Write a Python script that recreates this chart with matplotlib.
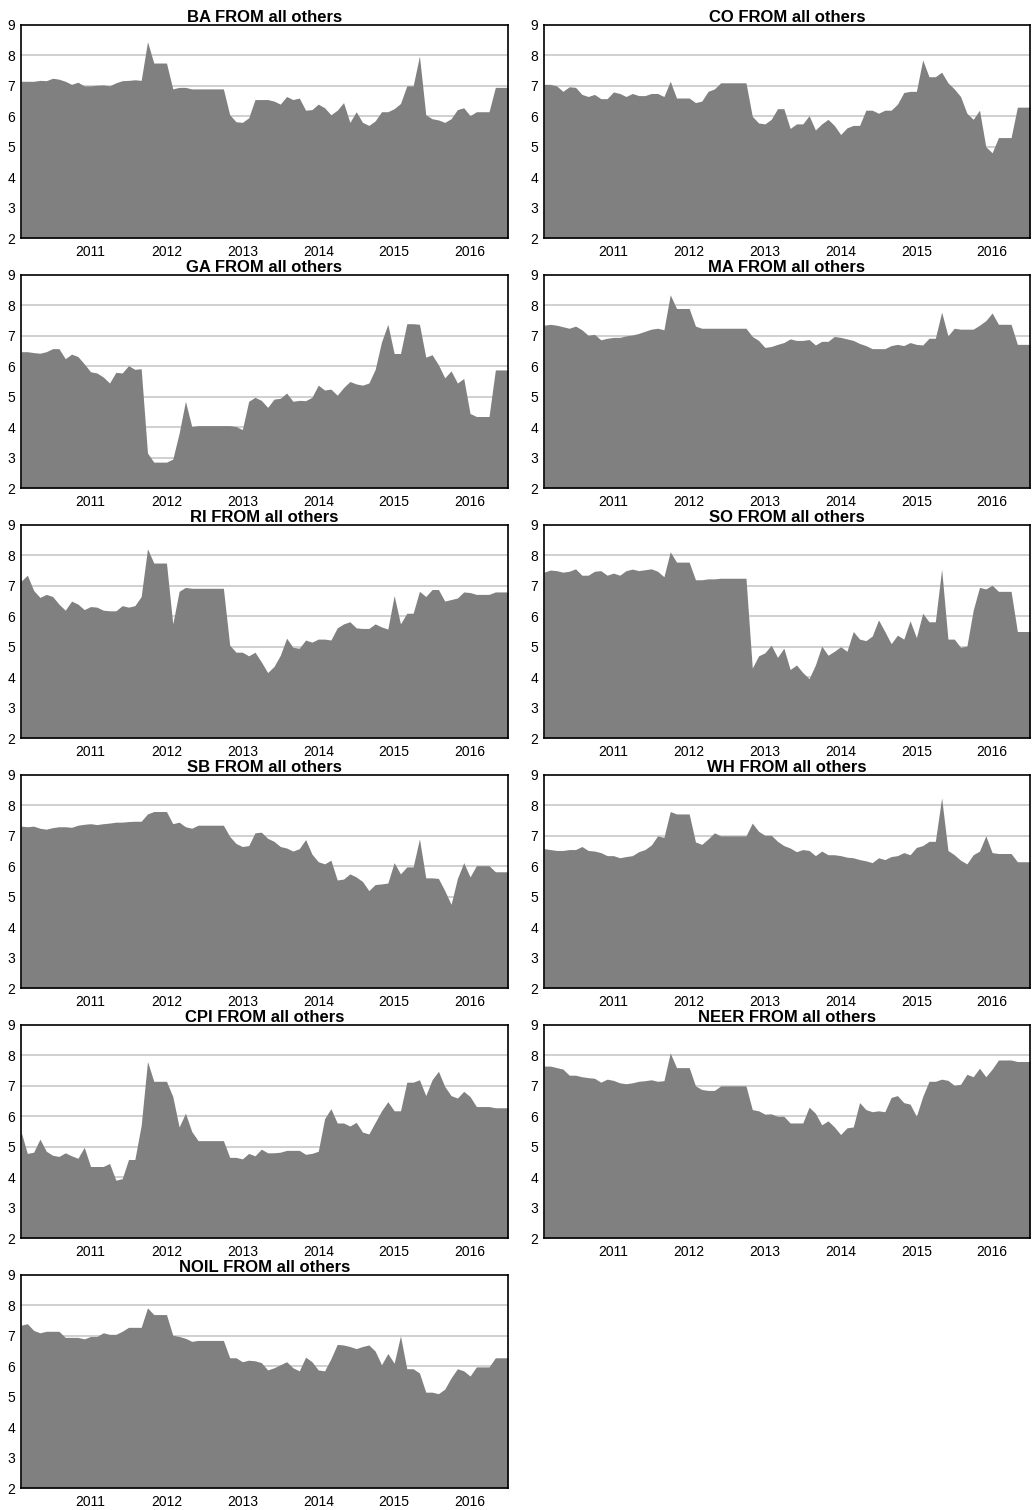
import matplotlib
matplotlib.use("Agg")
import matplotlib.pyplot as plt
import numpy as np

plt.rcParams["font.family"] = ["Liberation Sans", "DejaVu Sans"]

# monthly observations, Feb 2010 .. Jul 2016
n_obs = 78
year_labels = ["2011", "2012", "2013", "2014", "2015", "2016"]
year_pos = [11, 23, 35, 47, 59, 71]   # January of each year (obs index)

ba = [7.15, 7.15, 7.15, 7.18, 7.17, 7.25, 7.22, 7.15, 7.05, 7.12, 7.0, 7.0, 7.02, 7.03, 7.0, 7.1,
      7.17, 7.18, 7.2, 7.18, 8.45, 7.75, 7.75, 7.75, 6.9, 6.95, 6.95, 6.9, 6.9, 6.9, 6.9, 6.9,
      6.9, 6.05, 5.82, 5.8, 5.95, 6.55, 6.55, 6.55, 6.5, 6.4, 6.65, 6.55, 6.6, 6.2, 6.22, 6.4,
      6.28, 6.05, 6.2, 6.45, 5.8, 6.15, 5.8, 5.7, 5.85, 6.15, 6.15, 6.25, 6.42, 7.0, 7.0, 7.98,
      6.05, 5.92, 5.88, 5.8, 5.92, 6.22, 6.28, 6.02, 6.15, 6.15, 6.15, 6.95, 6.95, 6.95]

co = [7.05, 7.05, 7.0, 6.82, 6.97, 6.95, 6.72, 6.65, 6.72, 6.58, 6.58, 6.8, 6.75, 6.65, 6.75, 6.68,
      6.68, 6.75, 6.75, 6.65, 7.15, 6.6, 6.6, 6.6, 6.45, 6.5, 6.82, 6.9, 7.1, 7.1, 7.1, 7.1,
      7.1, 6.0, 5.78, 5.75, 5.9, 6.25, 6.25, 5.6, 5.75, 5.75, 6.02, 5.55, 5.75, 5.9, 5.7, 5.4,
      5.62, 5.7, 5.7, 6.2, 6.2, 6.1, 6.2, 6.2, 6.4, 6.78, 6.82, 6.82, 7.85, 7.3, 7.3, 7.45,
      7.1, 6.9, 6.65, 6.1, 5.9, 6.2, 5.0, 4.8, 5.3, 5.3, 5.3, 6.3, 6.3, 6.3]

ga = [6.48, 6.48, 6.45, 6.43, 6.48, 6.58, 6.58, 6.25, 6.4, 6.32, 6.08, 5.82, 5.78, 5.65, 5.45, 5.8,
      5.78, 6.02, 5.9, 5.92, 3.15, 2.85, 2.85, 2.85, 2.95, 3.8, 4.85, 4.02, 4.05, 4.05, 4.05, 4.05,
      4.05, 4.05, 4.02, 3.92, 4.85, 4.98, 4.88, 4.65, 4.92, 4.95, 5.12, 4.85, 4.88, 4.87, 4.98, 5.38,
      5.22, 5.25, 5.05, 5.3, 5.5, 5.42, 5.38, 5.45, 5.9, 6.8, 7.38, 6.42, 6.42, 7.4, 7.4, 7.38,
      6.3, 6.38, 6.05, 5.62, 5.85, 5.45, 5.6, 4.45, 4.35, 4.35, 4.35, 5.88, 5.88, 5.88]

ma = [7.35, 7.38, 7.35, 7.3, 7.25, 7.32, 7.2, 7.02, 7.05, 6.87, 6.92, 6.95, 6.95, 7.0, 7.03, 7.08,
      7.15, 7.22, 7.25, 7.2, 8.35, 7.9, 7.9, 7.9, 7.32, 7.25, 7.25, 7.25, 7.25, 7.25, 7.25, 7.25,
      7.25, 6.98, 6.85, 6.62, 6.65, 6.72, 6.78, 6.9, 6.85, 6.85, 6.88, 6.7, 6.82, 6.82, 6.98, 6.95,
      6.9, 6.85, 6.75, 6.68, 6.58, 6.58, 6.58, 6.68, 6.72, 6.68, 6.78, 6.72, 6.7, 6.92, 6.92, 7.78,
      7.0, 7.25, 7.22, 7.22, 7.22, 7.35, 7.5, 7.75, 7.38, 7.38, 7.38, 6.72, 6.72, 6.72]

ri = [7.15, 7.35, 6.85, 6.62, 6.72, 6.65, 6.4, 6.2, 6.5, 6.4, 6.22, 6.32, 6.3, 6.2, 6.18, 6.18,
      6.35, 6.3, 6.35, 6.65, 8.22, 7.75, 7.75, 7.75, 5.75, 6.82, 6.95, 6.92, 6.92, 6.92, 6.92, 6.92,
      6.92, 5.05, 4.82, 4.82, 4.7, 4.82, 4.5, 4.15, 4.35, 4.72, 5.28, 4.98, 4.95, 5.22, 5.15, 5.25,
      5.25, 5.22, 5.62, 5.75, 5.82, 5.62, 5.6, 5.6, 5.75, 5.65, 5.58, 6.68, 5.75, 6.1, 6.1, 6.82,
      6.65, 6.88, 6.88, 6.5, 6.55, 6.6, 6.8, 6.78, 6.72, 6.72, 6.72, 6.8, 6.8, 6.8]

so = [7.45, 7.52, 7.5, 7.45, 7.48, 7.56, 7.35, 7.35, 7.48, 7.5, 7.35, 7.42, 7.35, 7.5, 7.55, 7.5,
      7.53, 7.56, 7.48, 7.3, 8.12, 7.78, 7.78, 7.78, 7.2, 7.2, 7.23, 7.23, 7.25, 7.25, 7.25, 7.25,
      7.25, 4.3, 4.7, 4.8, 5.05, 4.65, 4.95, 4.25, 4.4, 4.15, 3.95, 4.4, 5.02, 4.72, 4.85, 5.0,
      4.85, 5.5, 5.25, 5.2, 5.35, 5.88, 5.5, 5.1, 5.38, 5.25, 5.85, 5.3, 6.1, 5.82, 5.82, 7.55,
      5.25, 5.25, 4.98, 5.02, 6.2, 6.95, 6.9, 7.02, 6.82, 6.82, 6.82, 5.5, 5.5, 5.5]

sb = [7.32, 7.3, 7.32, 7.25, 7.22, 7.27, 7.3, 7.3, 7.28, 7.35, 7.38, 7.4, 7.37, 7.4, 7.42, 7.45,
      7.45, 7.47, 7.48, 7.48, 7.72, 7.8, 7.8, 7.8, 7.4, 7.45, 7.3, 7.25, 7.35, 7.35, 7.35, 7.35,
      7.35, 6.98, 6.75, 6.65, 6.68, 7.1, 7.12, 6.92, 6.82, 6.65, 6.6, 6.5, 6.58, 6.88, 6.4, 6.15,
      6.08, 6.2, 5.55, 5.58, 5.75, 5.65, 5.5, 5.2, 5.4, 5.42, 5.45, 6.12, 5.75, 5.98, 5.98, 6.9,
      5.62, 5.62, 5.6, 5.2, 4.75, 5.6, 6.12, 5.65, 6.02, 6.02, 6.02, 5.82, 5.82, 5.82]

wh = [6.58, 6.55, 6.52, 6.52, 6.55, 6.55, 6.65, 6.52, 6.5, 6.45, 6.35, 6.35, 6.28, 6.32, 6.35, 6.48,
      6.55, 6.7, 7.0, 6.95, 7.8, 7.72, 7.72, 7.72, 6.8, 6.72, 6.9, 7.1, 7.0, 7.0, 7.0, 7.0,
      7.0, 7.42, 7.15, 7.02, 7.02, 6.82, 6.68, 6.6, 6.48, 6.55, 6.52, 6.35, 6.5, 6.38, 6.38, 6.35,
      6.3, 6.28, 6.22, 6.18, 6.12, 6.28, 6.22, 6.32, 6.35, 6.45, 6.38, 6.62, 6.68, 6.82, 6.82, 8.25,
      6.52, 6.38, 6.2, 6.08, 6.38, 6.5, 7.0, 6.45, 6.42, 6.42, 6.42, 6.15, 6.15, 6.15]

cpi = [5.5, 4.78, 4.82, 5.25, 4.85, 4.72, 4.68, 4.8, 4.7, 4.62, 4.98, 4.35, 4.35, 4.35, 4.45, 3.9,
       3.95, 4.58, 4.58, 5.7, 7.8, 7.15, 7.15, 7.15, 6.65, 5.65, 6.1, 5.5, 5.2, 5.2, 5.2, 5.2,
       5.2, 4.65, 4.65, 4.6, 4.78, 4.7, 4.92, 4.8, 4.8, 4.82, 4.88, 4.88, 4.88, 4.75, 4.78, 4.85,
       5.92, 6.25, 5.78, 5.78, 5.68, 5.8, 5.48, 5.42, 5.8, 6.18, 6.48, 6.18, 6.18, 7.12, 7.12, 7.2,
       6.68, 7.2, 7.48, 6.98, 6.68, 6.6, 6.82, 6.65, 6.32, 6.32, 6.32, 6.28, 6.28, 6.28]

neer = [7.65, 7.65, 7.6, 7.55, 7.35, 7.35, 7.3, 7.27, 7.25, 7.12, 7.22, 7.18, 7.1, 7.07, 7.1, 7.15,
        7.17, 7.2, 7.15, 7.17, 8.08, 7.6, 7.6, 7.6, 7.0, 6.88, 6.85, 6.85, 7.0, 7.0, 7.0, 7.0,
        7.0, 6.22, 6.18, 6.07, 6.08, 6.0, 6.0, 5.78, 5.78, 5.78, 6.3, 6.1, 5.72, 5.85, 5.65, 5.4,
        5.62, 5.65, 6.45, 6.22, 6.15, 6.18, 6.15, 6.62, 6.68, 6.45, 6.4, 6.0, 6.65, 7.15, 7.15, 7.22,
        7.18, 7.02, 7.05, 7.38, 7.3, 7.58, 7.3, 7.55, 7.85, 7.85, 7.85, 7.8, 7.8, 7.8]

noil = [7.35, 7.4, 7.18, 7.1, 7.15, 7.15, 7.15, 6.95, 6.95, 6.95, 6.9, 6.98, 6.98, 7.1, 7.05, 7.05,
        7.15, 7.28, 7.28, 7.28, 7.92, 7.7, 7.7, 7.7, 7.02, 6.98, 6.92, 6.82, 6.85, 6.85, 6.85, 6.85,
        6.85, 6.28, 6.28, 6.15, 6.2, 6.18, 6.12, 5.88, 5.95, 6.05, 6.15, 5.95, 5.85, 6.3, 6.15, 5.88,
        5.85, 6.25, 6.72, 6.7, 6.65, 6.58, 6.65, 6.7, 6.5, 6.05, 6.42, 6.1, 7.0, 5.92, 5.92, 5.78,
        5.15, 5.15, 5.1, 5.25, 5.62, 5.92, 5.85, 5.68, 5.98, 5.98, 5.98, 6.28, 6.28, 6.28]

names = ["BA", "CO", "GA", "MA", "RI", "SO", "SB", "WH", "CPI", "NEER", "NOIL"]
series = [ba, co, ga, ma, ri, so, sb, wh, cpi, neer, noil]

W, H = 1033, 1510
fig = plt.figure(figsize=(W / 100, H / 100), dpi=100)

x = np.arange(n_obs)
for k, (name, vals) in enumerate(zip(names, series)):
    row, col = divmod(k, 2)
    left = 21 if col == 0 else 544
    right = 508 if col == 0 else 1030
    top = 25 + 250 * row
    bottom = 238 + 250 * row
    ax = fig.add_axes([left / W, 1 - bottom / H, (right - left) / W, (bottom - top) / H])

    for yv in range(3, 9):
        ax.axhline(yv, color="#c8c8c8", lw=1.2, zorder=1)
    ax.fill_between(x, 2, vals, color="#808080", lw=0, zorder=2)

    ax.set_xlim(0, n_obs - 1)
    ax.set_ylim(2, 9)
    ax.set_yticks(range(2, 10))
    ax.set_xticks(year_pos)
    ax.set_xticklabels(year_labels)
    ax.tick_params(length=0, labelsize=10)
    ax.tick_params(axis="x", pad=5)
    ax.tick_params(axis="y", pad=4)
    for sp in ax.spines.values():
        sp.set_color("black")
        sp.set_linewidth(1.2)
        sp.set_zorder(5)
    ax.set_title(name + " FROM all others", fontsize=12, fontweight="bold", pad=1)

fig.savefig("out.png", dpi=100)
